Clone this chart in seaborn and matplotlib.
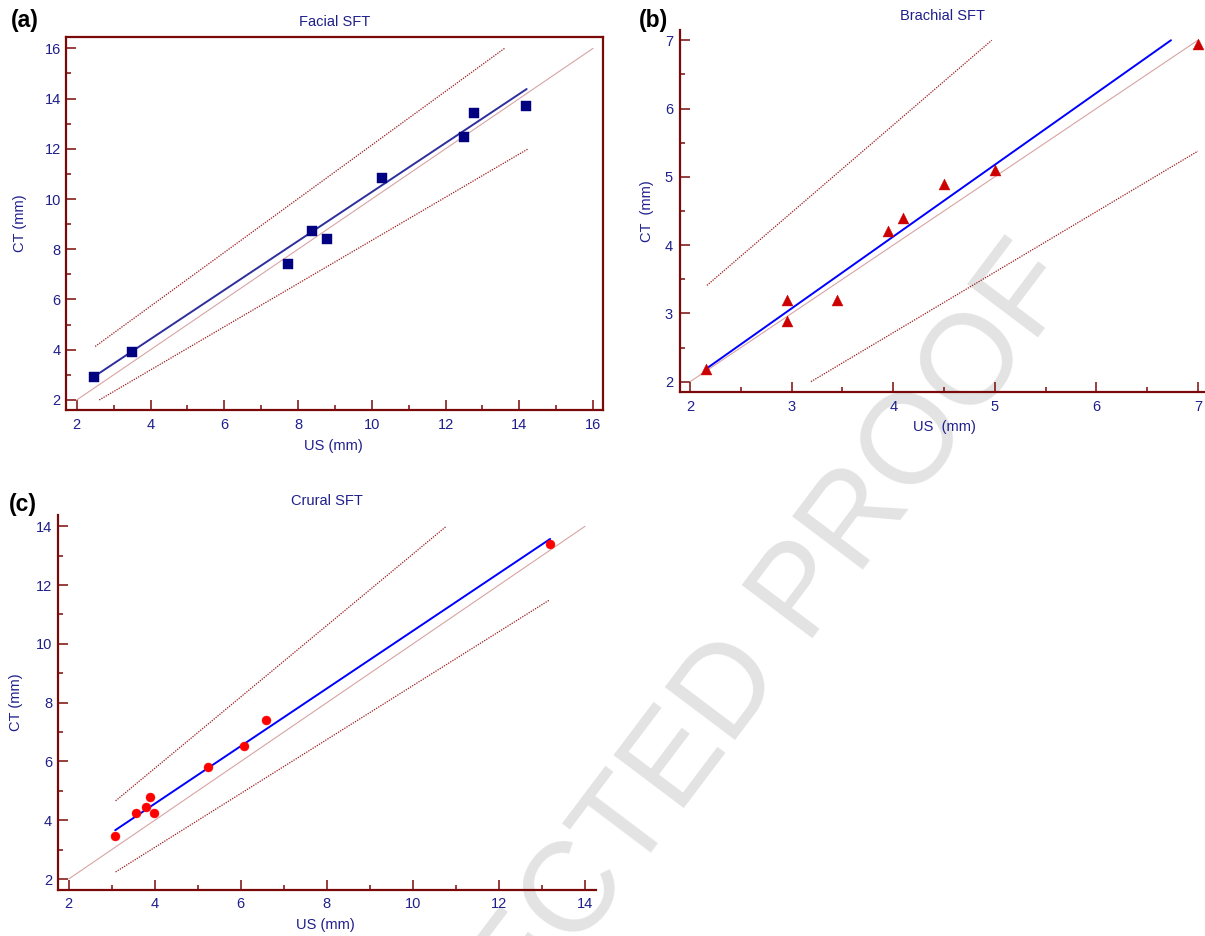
import numpy as np
import pandas as pd
import seaborn as sns
import matplotlib
matplotlib.use("Agg")
import matplotlib.pyplot as plt
from matplotlib.ticker import MultipleLocator

# ---------------- data ----------------
# (a) Facial SFT
facial_us = [2.48, 3.49, 7.74, 8.37, 8.78, 10.28, 12.49, 12.78, 14.19]
facial_ct = [2.90, 3.92, 7.43, 8.73, 8.41, 10.84, 12.47, 13.41, 13.72]
facial_fit_x = [2.50, 14.20]
facial_fit_y = [2.96, 14.38]
facial_upper_x = [2.50, 13.60]
facial_upper_y = [4.13, 16.00]
facial_lower_x = [2.61, 14.23]
facial_lower_y = [2.00, 11.99]
facial_ident = [2, 16]

# (b) Brachial SFT
brachial_us = [2.16, 2.95, 2.95, 3.45, 3.95, 4.10, 4.50, 5.00, 7.00]
brachial_ct = [2.19, 3.20, 2.89, 3.20, 4.20, 4.40, 4.89, 5.10, 6.95]
brachial_fit_x = [2.165, 6.735]
brachial_fit_y = [2.196, 7.00]
brachial_upper_x = [2.165, 4.97]
brachial_upper_y = [3.41, 7.00]
brachial_lower_x = [3.19, 7.00]
brachial_lower_y = [2.00, 5.376]
brachial_ident = [2, 7]

# (c) Crural SFT
crural_us = [3.08, 3.56, 3.79, 3.89, 3.99, 5.23, 6.08, 6.59, 13.18]
crural_ct = [3.45, 4.23, 4.44, 4.79, 4.25, 5.80, 6.51, 7.40, 13.41]
crural_fit_x = [3.08, 13.19]
crural_fit_y = [3.66, 13.57]
crural_upper_x = [3.09, 10.76]
crural_upper_y = [4.66, 13.98]
crural_lower_x = [3.09, 13.17]
crural_lower_y = [2.24, 11.49]
crural_ident = [2, 14]

# ---------------- style ----------------
sns.set_theme(style="ticks")
plt.rcParams["font.family"] = ["Liberation Sans", "DejaVu Sans"]

NAVY_TXT = "#1f1f8c"
SPINE = "#7a0a0a"
IDENT = "#d8a4a4"
DOT = "#9a1a1a"

W, H = 1205, 936
fig = plt.figure(figsize=(W / 100, H / 100), dpi=100)
fig.patch.set_facecolor("white")


def px_axes(left, right, top, bottom):
    return fig.add_axes([left / W, 1 - bottom / H, (right - left) / W, (bottom - top) / H])


def style_axes(ax, box, major, minor, xpad, ypad):
    ax.set_facecolor("none")
    for s in ["left", "bottom", "top", "right"]:
        ax.spines[s].set_color(SPINE)
        ax.spines[s].set_linewidth(1.6)
    if not box:
        ax.spines["top"].set_visible(False)
        ax.spines["right"].set_visible(False)
    ax.xaxis.set_major_locator(MultipleLocator(major))
    ax.xaxis.set_minor_locator(MultipleLocator(minor))
    ax.yaxis.set_major_locator(MultipleLocator(major))
    ax.yaxis.set_minor_locator(MultipleLocator(minor))
    ax.tick_params(which="both", direction="in", color=SPINE, width=1.1,
                   labelcolor=NAVY_TXT, labelsize=10.5, top=False, right=False)
    ax.tick_params(which="major", length=7.3)
    ax.tick_params(which="minor", length=3.8)
    ax.tick_params(axis="x", which="major", pad=xpad)
    ax.tick_params(axis="y", which="major", pad=ypad)
    ax.grid(False)


def draw_panel(ax, us, ct, fx, fy, ux, uy, lx, ly, ident, marker, mcolor, msize, fitcolor):
    sns.lineplot(x=ident, y=ident, ax=ax, color=IDENT, lw=0.8, sort=False, estimator=None)
    sns.lineplot(x=ux, y=uy, ax=ax, color=DOT, lw=0.9, linestyle=(0, (1, 1)), sort=False, estimator=None)
    sns.lineplot(x=lx, y=ly, ax=ax, color=DOT, lw=0.9, linestyle=(0, (1, 1)), sort=False, estimator=None)
    sns.lineplot(x=fx, y=fy, ax=ax, color=fitcolor, lw=1.4, sort=False, estimator=None)
    sns.scatterplot(x=us, y=ct, ax=ax, marker=marker, color=mcolor, s=msize,
                    edgecolor=mcolor, linewidth=0.3, zorder=5)


lab_kw = dict(color=NAVY_TXT, fontsize=10.5)

# ---- (a) ----
axA = px_axes(65.7, 603, 37.3, 410)
draw_panel(axA, facial_us, facial_ct, facial_fit_x, facial_fit_y,
           facial_upper_x, facial_upper_y, facial_lower_x, facial_lower_y,
           facial_ident, "s", "#000080", 55, "#2e2e9c")
axA.set_xlim(1.70, 16.27)
axA.set_ylim(1.60, 16.44)
style_axes(axA, True, 2, 1, 6, 3.5)
axA.set_xlabel("US (mm)", **lab_kw)
axA.set_ylabel("CT (mm)", **lab_kw)
axA.xaxis.set_label_coords(0.499, -0.078)
axA.yaxis.set_label_coords(-0.072, 0.50)
axA.set_title("Facial SFT", y=1.041, pad=0, va="center", **lab_kw)

# ---- (b) ----
axB = px_axes(680, 1205, 30, 391.7)
draw_panel(axB, brachial_us, brachial_ct, brachial_fit_x, brachial_fit_y,
           brachial_upper_x, brachial_upper_y, brachial_lower_x, brachial_lower_y,
           brachial_ident, "^", "#cc0000", 62, "#0000ff")
axB.set_xlim(1.90, 7.07)
axB.set_ylim(1.853, 7.15)
style_axes(axB, False, 1, 0.5, 6, 5)
axB.set_xlabel("US  (mm)", **lab_kw)
axB.set_ylabel("CT  (mm)", **lab_kw)
axB.xaxis.set_label_coords(0.503, -0.078)
axB.yaxis.set_label_coords(-0.050, 0.50)
axB.set_title("Brachial SFT", y=1.039, pad=0, va="center", **lab_kw)

# ---- (c) ----
axC = px_axes(57.7, 596, 515, 890)
draw_panel(axC, crural_us, crural_ct, crural_fit_x, crural_fit_y,
           crural_upper_x, crural_upper_y, crural_lower_x, crural_lower_y,
           crural_ident, "o", "#ff0000", 42, "#0000ff")
axC.set_xlim(1.744, 14.256)
axC.set_ylim(1.626, 14.385)
style_axes(axC, False, 2, 1, 5, 4)
axC.set_xlabel("US (mm)", **lab_kw)
axC.set_ylabel("CT (mm)", **lab_kw)
axC.xaxis.set_label_coords(0.497, -0.075)
axC.yaxis.set_label_coords(-0.064, 0.50)
axC.set_title("Crural SFT", y=1.038, pad=0, va="center", **lab_kw)

for ax in (axA, axB, axC):
    leg = ax.get_legend()
    if leg is not None:
        leg.remove()

# panel letters
fig.text(24.5 / W, 1 - 21 / H, "(a)", fontsize=16.5, fontweight="bold", ha="center", va="center", color="black")
fig.text(653 / W, 1 - 21 / H, "(b)", fontsize=16.5, fontweight="bold", ha="center", va="center", color="black")
fig.text(22.5 / W, 1 - 505 / H, "(c)", fontsize=16.5, fontweight="bold", ha="center", va="center", color="black")

# watermark
fig.text(663 / W, 1 - 782 / H, "CORRECTED PROOF", rotation=53, fontsize=92, color="#e3e3e3",
         ha="center", va="center", rotation_mode="anchor", zorder=-10)

fig.savefig("out.png", dpi=100, facecolor="white")
